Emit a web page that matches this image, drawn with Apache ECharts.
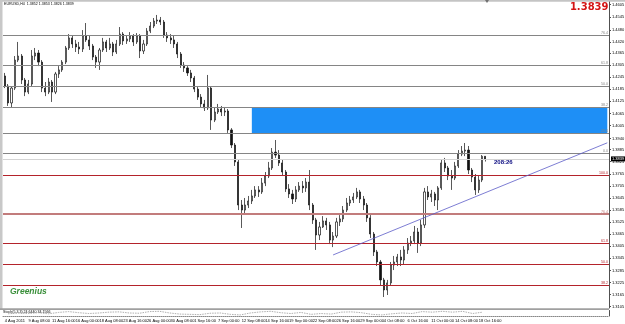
<!DOCTYPE html>
<html>
<head>
<meta charset="utf-8">
<title>EURUSD H4</title>
<script src="https://cdn.jsdelivr.net/npm/echarts@6/dist/echarts.min.js"></script>
<style>
  html, body { margin: 0; padding: 0; background: #fff; }
  #chart { width: 625px; height: 324px; }
</style>
</head>
<body>
<div id="chart"></div>
<script>
// bars, [open, high, low, close]
const ohlc = [
  [1.4251, 1.4266, 1.4191, 1.4201], [1.4201, 1.4211, 1.4102, 1.4117], [1.4117, 1.4201, 1.4092, 1.4191],
  [1.4191, 1.4350, 1.4181, 1.4330], [1.4330, 1.4420, 1.4320, 1.4350], [1.4350, 1.4360, 1.4211, 1.4231],
  [1.4231, 1.4241, 1.4151, 1.4171], [1.4171, 1.4231, 1.4161, 1.4211], [1.4211, 1.4380, 1.4201, 1.4350],
  [1.4350, 1.4390, 1.4330, 1.4365], [1.4365, 1.4380, 1.4300, 1.4320], [1.4320, 1.4330, 1.4171, 1.4191],
  [1.4191, 1.4221, 1.4151, 1.4171], [1.4171, 1.4241, 1.4161, 1.4221], [1.4221, 1.4231, 1.4122, 1.4171],
  [1.4171, 1.4271, 1.4161, 1.4261], [1.4261, 1.4300, 1.4241, 1.4281], [1.4281, 1.4330, 1.4271, 1.4320],
  [1.4320, 1.4400, 1.4310, 1.4390], [1.4390, 1.4459, 1.4380, 1.4440], [1.4440, 1.4450, 1.4390, 1.4410],
  [1.4410, 1.4430, 1.4370, 1.4395], [1.4395, 1.4420, 1.4360, 1.4385], [1.4385, 1.4479, 1.4370, 1.4450],
  [1.4450, 1.4514, 1.4420, 1.4430], [1.4430, 1.4450, 1.4380, 1.4400], [1.4400, 1.4410, 1.4330, 1.4345],
  [1.4345, 1.4355, 1.4291, 1.4320], [1.4320, 1.4390, 1.4281, 1.4380], [1.4380, 1.4440, 1.4370, 1.4420],
  [1.4420, 1.4430, 1.4370, 1.4390], [1.4390, 1.4440, 1.4380, 1.4410], [1.4410, 1.4420, 1.4350, 1.4370],
  [1.4370, 1.4430, 1.4360, 1.4410], [1.4410, 1.4494, 1.4400, 1.4459], [1.4459, 1.4469, 1.4405, 1.4425],
  [1.4425, 1.4450, 1.4410, 1.4435], [1.4435, 1.4469, 1.4420, 1.4450], [1.4450, 1.4459, 1.4400, 1.4420],
  [1.4420, 1.4464, 1.4410, 1.4450], [1.4450, 1.4459, 1.4340, 1.4375], [1.4375, 1.4430, 1.4360, 1.4410],
  [1.4410, 1.4489, 1.4400, 1.4474], [1.4474, 1.4519, 1.4464, 1.4499], [1.4499, 1.4539, 1.4489, 1.4524],
  [1.4524, 1.4554, 1.4509, 1.4529], [1.4529, 1.4544, 1.4504, 1.4519], [1.4519, 1.4529, 1.4440, 1.4454],
  [1.4454, 1.4469, 1.4420, 1.4440], [1.4440, 1.4459, 1.4410, 1.4430], [1.4430, 1.4450, 1.4390, 1.4410],
  [1.4410, 1.4420, 1.4340, 1.4360], [1.4360, 1.4370, 1.4291, 1.4305], [1.4305, 1.4320, 1.4271, 1.4291],
  [1.4291, 1.4300, 1.4251, 1.4266], [1.4266, 1.4281, 1.4221, 1.4241], [1.4241, 1.4251, 1.4171, 1.4186],
  [1.4186, 1.4201, 1.4132, 1.4146], [1.4146, 1.4161, 1.4097, 1.4112], [1.4112, 1.4132, 1.4077, 1.4092],
  [1.4092, 1.4256, 1.4082, 1.4191], [1.4191, 1.4201, 1.3983, 1.4032], [1.4032, 1.4092, 1.4022, 1.4072],
  [1.4072, 1.4112, 1.4062, 1.4087], [1.4087, 1.4102, 1.4052, 1.4072], [1.4072, 1.4097, 1.4052, 1.4077],
  [1.4077, 1.4087, 1.3968, 1.3983], [1.3983, 1.3992, 1.3893, 1.3908], [1.3908, 1.3918, 1.3804, 1.3824],
  [1.3824, 1.3834, 1.3585, 1.3610], [1.3610, 1.3635, 1.3496, 1.3585], [1.3585, 1.3645, 1.3565, 1.3610],
  [1.3610, 1.3655, 1.3595, 1.3630], [1.3630, 1.3685, 1.3615, 1.3655], [1.3655, 1.3704, 1.3645, 1.3685],
  [1.3685, 1.3704, 1.3650, 1.3675], [1.3675, 1.3744, 1.3665, 1.3719], [1.3719, 1.3774, 1.3704, 1.3754],
  [1.3754, 1.3824, 1.3744, 1.3794], [1.3794, 1.3893, 1.3784, 1.3873], [1.3873, 1.3933, 1.3844, 1.3858],
  [1.3858, 1.3883, 1.3804, 1.3819], [1.3819, 1.3834, 1.3754, 1.3774], [1.3774, 1.3784, 1.3675, 1.3690],
  [1.3690, 1.3714, 1.3645, 1.3665], [1.3665, 1.3685, 1.3615, 1.3640], [1.3640, 1.3704, 1.3625, 1.3685],
  [1.3685, 1.3724, 1.3675, 1.3704], [1.3704, 1.3729, 1.3670, 1.3695], [1.3695, 1.3744, 1.3675, 1.3724],
  [1.3724, 1.3784, 1.3585, 1.3610], [1.3610, 1.3620, 1.3516, 1.3536], [1.3536, 1.3546, 1.3387, 1.3461],
  [1.3461, 1.3526, 1.3436, 1.3501], [1.3501, 1.3555, 1.3496, 1.3531], [1.3531, 1.3546, 1.3486, 1.3511],
  [1.3511, 1.3526, 1.3416, 1.3436], [1.3436, 1.3476, 1.3401, 1.3456], [1.3456, 1.3546, 1.3446, 1.3526],
  [1.3526, 1.3560, 1.3506, 1.3541], [1.3541, 1.3605, 1.3526, 1.3585], [1.3585, 1.3645, 1.3575, 1.3620],
  [1.3620, 1.3655, 1.3605, 1.3635], [1.3635, 1.3670, 1.3620, 1.3650], [1.3650, 1.3695, 1.3640, 1.3675],
  [1.3675, 1.3685, 1.3620, 1.3640], [1.3640, 1.3655, 1.3585, 1.3610], [1.3610, 1.3620, 1.3526, 1.3546],
  [1.3546, 1.3560, 1.3446, 1.3466], [1.3466, 1.3476, 1.3357, 1.3377], [1.3377, 1.3387, 1.3307, 1.3327],
  [1.3327, 1.3337, 1.3208, 1.3238], [1.3238, 1.3248, 1.3153, 1.3188], [1.3188, 1.3238, 1.3163, 1.3223],
  [1.3223, 1.3327, 1.3208, 1.3312], [1.3312, 1.3357, 1.3287, 1.3327], [1.3327, 1.3367, 1.3307, 1.3352],
  [1.3352, 1.3387, 1.3307, 1.3337], [1.3337, 1.3406, 1.3317, 1.3387], [1.3387, 1.3446, 1.3367, 1.3421],
  [1.3421, 1.3456, 1.3406, 1.3431], [1.3431, 1.3506, 1.3416, 1.3476], [1.3476, 1.3496, 1.3372, 1.3421],
  [1.3421, 1.3536, 1.3406, 1.3511], [1.3511, 1.3695, 1.3496, 1.3675], [1.3675, 1.3704, 1.3635, 1.3650],
  [1.3650, 1.3685, 1.3625, 1.3665], [1.3665, 1.3675, 1.3605, 1.3635], [1.3635, 1.3704, 1.3585, 1.3695],
  [1.3695, 1.3834, 1.3685, 1.3819], [1.3819, 1.3844, 1.3774, 1.3794], [1.3794, 1.3804, 1.3734, 1.3754],
  [1.3754, 1.3784, 1.3685, 1.3744], [1.3744, 1.3824, 1.3734, 1.3804], [1.3804, 1.3883, 1.3794, 1.3863],
  [1.3863, 1.3903, 1.3853, 1.3878], [1.3878, 1.3918, 1.3853, 1.3883], [1.3883, 1.3903, 1.3764, 1.3784],
  [1.3784, 1.3794, 1.3724, 1.3749], [1.3749, 1.3764, 1.3660, 1.3685], [1.3685, 1.3754, 1.3670, 1.3734],
  [1.3734, 1.3858, 1.3724, 1.3852], [1.3852, 1.3853, 1.3826, 1.3839]
]
const totalBars = 179 // visible slots incl. empty space on the right

const timeLabels = ['4 Aug 2011', '9 Aug 08:00', '11 Aug 16:00', '16 Aug 00:00', '18 Aug 08:00', '23 Aug 16:00',
  '26 Aug 00:00', '30 Aug 08:00', '1 Sep 16:00', '7 Sep 00:00', '12 Sep 08:00', '14 Sep 16:00', '19 Sep 00:00',
  '22 Sep 08:00', '26 Sep 16:00', '29 Sep 00:00', '4 Oct 08:00', '6 Oct 16:00', '11 Oct 00:00', '14 Oct 08:00',
  '18 Oct 16:00']

const priceTicks = [1.4605, 1.4545, 1.4480, 1.4420, 1.4365, 1.4305, 1.4245, 1.4185, 1.4125, 1.4065, 1.4005,
  1.3940, 1.3885, 1.3825, 1.3765, 1.3705, 1.3645, 1.3585, 1.3525, 1.3465, 1.3405, 1.3345, 1.3285, 1.3225,
  1.3165, 1.3105]

// fibo levels
const grayLevels = [1.4452, 1.4303, 1.4199, 1.4094, 1.3965, 1.3866]
const grayNames = ['76.4', '61.8', '50.0', '38.2', '23.6', '0.0']
const redLevels = [1.3757, 1.3565, 1.3419, 1.3315, 1.3210]
const redNames = ['100.0', '76.4', '61.8', '50.0', '38.2']

const zone = [1.4094, 1.3965] // blue box
const zoneStart = 73
const trendStart = [97, 1.3362]
const trendEnd = [178, 1.3919]
const lastPrice = 1.3839

const stoch = [40, 55, 45, 60, 40, 65, 80, 60, 45, 55, 70, 75, 55, 50, 80, 85, 55, 35, 30, 25, 50, 55, 30, 20,
  55, 75, 85, 60, 45, 65, 30, 45, 35, 70, 75, 60, 30, 20, 40, 55, 45, 80, 70, 85, 70, 85, 45, 70]

const cats = []
for (let i = 0; i < totalBars; i++) cats.push(String(i))
const stochCats = []
for (let i = 0; i < Math.ceil(totalBars / 3); i++) stochCats.push(String(i))
const candles = ohlc.map(b => [b[0], b[3], b[2], b[1]])

const tiny = 'Liberation Sans'

const levelItem = (v, txt, color, width) => ({
  yAxis: v,
  lineStyle: { color: color, width: width, type: 'solid' },
  label: { show: true, position: 'insideEndTop', formatter: txt, color: color, fontSize: 3.6, fontFamily: tiny, distance: [1, 0.5] }
})

const marks = []
grayLevels.forEach((v, i) => marks.push(levelItem(v, grayNames[i], '#858585', 1)))
redLevels.forEach((v, i) => marks.push(levelItem(v, redNames[i], i === 1 ? '#c27c7c' : '#b4232b', i === 1 ? 2 : 1)))
// price boxes on the axis
marks.push({
  yAxis: lastPrice,
  lineStyle: { color: '#d4d4d4', width: 1, type: 'solid' },
  label: { show: true, position: 'end', formatter: lastPrice.toFixed(4), color: '#fff', backgroundColor: '#000', fontSize: 4, fontFamily: tiny, padding: [0.5, 1], distance: 2 }
})
marks.push({
  yAxis: redLevels[0],
  lineStyle: { opacity: 0 },
  label: { show: true, position: 'end', formatter: redLevels[0].toFixed(4), color: '#fff', backgroundColor: '#e01010', fontSize: 4, fontFamily: tiny, padding: [0.5, 1], distance: 2 }
})
// trend line
const trendStyle = { color: '#5c5cc8', width: 0.8, type: 'solid' }
marks.push([
  { coord: trendStart, lineStyle: trendStyle, label: { show: false } },
  { coord: trendEnd, lineStyle: trendStyle, label: { show: false } }
])

const chart = echarts.init(document.getElementById('chart'))

chart.setOption({
  animation: false,
  backgroundColor: '#fff',
  grid: [
    { left: 3, right: 16, top: 2, height: 306, outerBoundsMode: 'none', containLabel: false },
    { left: 3, right: 16, top: 310.5, height: 5.5, outerBoundsMode: 'none', containLabel: false }
  ],
  xAxis: [
    {
      type: 'category', gridIndex: 0, data: cats, boundaryGap: true,
      axisLine: { show: false }, axisTick: { show: false }, splitLine: { show: false },
      axisLabel: {
        show: true, interval: 6, align: 'left', fontSize: 4, fontFamily: tiny, color: '#000', margin: 10.5,
        formatter: (v, i) => timeLabels[i / 7] || ''
      }
    },
    {
      type: 'category', gridIndex: 1, data: stochCats, boundaryGap: true,
      axisLine: { show: true, lineStyle: { color: '#888', type: [1, 1], width: 1 } },
      axisTick: { show: false }, axisLabel: { show: false }, splitLine: { show: false }
    }
  ],
  yAxis: [
    {
      type: 'value', gridIndex: 0, position: 'right', min: 1.30985, max: 1.46184,
      axisLine: { show: true, lineStyle: { color: '#505050', width: 1 } },
      axisTick: { show: true, length: 2, customValues: priceTicks, lineStyle: { color: '#505050' } },
      axisLabel: { show: true, customValues: priceTicks, fontSize: 4, fontFamily: tiny, color: '#000', margin: 3, formatter: v => v.toFixed(4) },
      splitLine: { show: false }
    },
    {
      type: 'value', gridIndex: 1, position: 'right', min: 0, max: 100,
      axisLine: { show: true, lineStyle: { color: '#505050', width: 1 } },
      axisTick: { show: false }, axisLabel: { show: false }, splitLine: { show: false }
    }
  ],
  series: [
    {
      type: 'candlestick',
      xAxisIndex: 0,
      yAxisIndex: 0,
      data: candles,
      barWidth: 1.6,
      clip: false,
      itemStyle: {
        color: '#ffffff',
        color0: '#111111',
        borderColor: '#111111',
        borderColor0: '#111111',
        borderWidth: 0.7
      },
      markArea: {
        silent: true,
        itemStyle: { color: '#1e8ff6' },
        data: [[{ xAxis: zoneStart, yAxis: zone[0] }, { xAxis: totalBars - 1, yAxis: zone[1] }]]
      },
      markLine: {
        silent: true,
        precision: 4,
        symbol: ['none', 'none'],
        animation: false,
        data: marks
      }
    },
    {
      type: 'line',
      xAxisIndex: 1,
      yAxisIndex: 1,
      data: stoch,
      symbol: 'none',
      lineStyle: { color: '#9a9a9a', width: 0.8, type: [1.5, 1] }
    }
  ],
  graphic: [
    { type: 'rect', shape: { x: 0, y: 0, width: 625, height: 1.8 }, style: { fill: '#c4c4c4' } },
    { type: 'rect', shape: { x: 0, y: 0, width: 2.5, height: 310 }, style: { fill: '#c8c8c8' } },
    { type: 'rect', shape: { x: 0, y: 308.3, width: 609, height: 1.8 }, style: { fill: '#a0a0a0' } },
    { type: 'polygon', shape: { points: [[485, 0], [489, 0], [487, 3]] }, style: { fill: '#707070' } },
    {
      type: 'text', x: 4, y: 4.3,
      style: { text: 'EURUSD,H4  1.3852 1.3853 1.3826 1.3839', fill: '#000', fontSize: 3.6, fontFamily: tiny, verticalAlign: 'middle' }
    },
    {
      type: 'text', x: 608.5, y: 2,
      style: { text: '1.3839', fill: '#d41414', fontSize: 10, fontWeight: 'bold', fontFamily: 'DejaVu Sans', align: 'right', verticalAlign: 'top' }
    },
    {
      type: 'text', x: 494, y: 162,
      style: { text: '208:26', fill: '#0a0a80', fontSize: 6, fontWeight: 'bold', fontFamily: tiny, verticalAlign: 'middle' }
    },
    {
      type: 'text', x: 10, y: 292,
      style: { text: 'Greenius', fill: '#3a8f3a', fontSize: 8.5, fontWeight: 'bold', fontStyle: 'italic', fontFamily: tiny, verticalAlign: 'middle' }
    },
    {
      type: 'text', x: 3, y: 312,
      style: { text: 'Stoch(5,3,3) 24.6440 34.1566', fill: '#000', fontSize: 3.6, fontFamily: tiny, verticalAlign: 'middle' }
    }
  ]
})
</script>
</body>
</html>
